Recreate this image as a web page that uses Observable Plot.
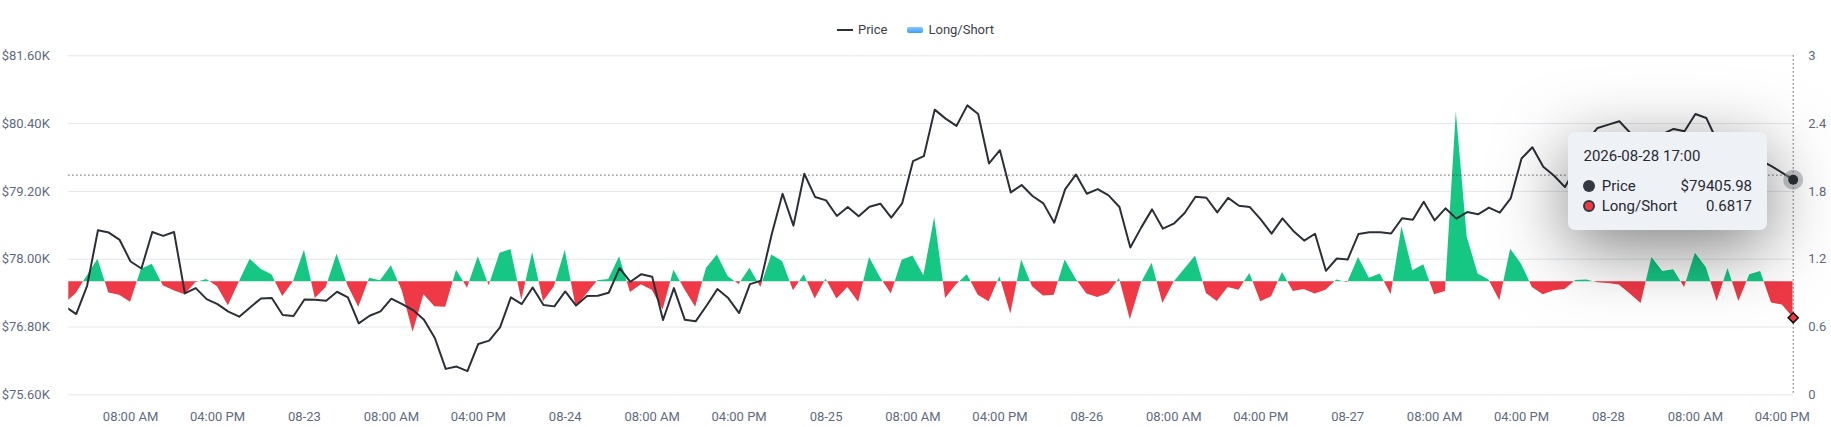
<!DOCTYPE html>
<html>
<head>
<meta charset="utf-8">
<script src="https://cdn.jsdelivr.net/npm/d3@7"></script>
<script src="https://cdn.jsdelivr.net/npm/@observablehq/plot@0.6"></script>
<style>
  html, body { margin: 0; padding: 0; background: #fff; }
  body { width: 1831px; height: 427px; overflow: hidden; font-family: Roboto, "Noto Sans", sans-serif; }
  #wrap { position: relative; width: 1831px; height: 427px; }
  #legend { height: 40px; box-sizing: border-box; padding-top: 20px; display: flex; justify-content: center; font-size: 13px; line-height: 18px; color: #3b4049; }
  #legend .item { display: flex; align-items: center; }
  #legend .sw-line { width: 16px; height: 2px; background: #2b2f36; margin-right: 5px; }
  #legend .sw-box { width: 16px; height: 6px; border-radius: 2px; background: linear-gradient(#86c9ff, #3a9ff5); margin-right: 5px; }
  #tooltip { position: absolute; left: 1568px; top: 131.5px; width: 199px; height: 98px; background: #eef1f5; border-radius: 7px; box-shadow: 0 18px 70px rgba(0,0,0,0.5); font-size: 15px; color: #262a33; }
  #tooltip .title { position: absolute; left: 15.5px; top: 14px; line-height: 20px; }
  #tooltip .row { position: absolute; left: 15px; right: 15px; height: 20px; line-height: 20px; }
  #tooltip .dot { position: absolute; left: 0; top: 4px; width: 12px; height: 12px; border-radius: 50%; box-sizing: border-box; }
  #tooltip .lab { position: absolute; left: 18.7px; }
  #tooltip .val { position: absolute; right: 0; }
</style>
</head>
<body>
<div id="wrap">
  <div id="legend">
    <div class="item"><span class="sw-line"></span><span>Price</span></div>
    <div class="item" style="margin-left:20px"><span class="sw-box"></span><span>Long/Short</span></div>
  </div>
  <div id="chart"></div>
  <div id="tooltip">
    <div class="title" id="tt-title"></div>
    <div class="row" style="top:44px"><span class="dot" style="background:#333943"></span><span class="lab">Price</span><span class="val" id="tt-price"></span></div>
    <div class="row" style="top:64px"><span class="dot" style="background:#ef3946;border:2px solid #333943"></span><span class="lab">Long/Short</span><span class="val" id="tt-ls"></span></div>
  </div>
</div>
<script>
// ---- data (hourly, starting 2026-08-22 02:00 UTC) ----
const startTime = "2026-08-22T02:00:00Z";
const viewStart = "2026-08-22T02:19:00Z";
const viewEnd = "2026-08-28T17:00:00Z";

const price = [
77159, 77029, 77529, 78512, 78471, 78341, 77959, 77835, 78482, 78412,
78482, 77394, 77488, 77294, 77206, 77071, 76982, 77147, 77306, 77312,
77012, 76994, 77288, 77282, 77265, 77424, 77324, 76865, 77000, 77077,
77301, 77206, 77100, 76929, 76606, 76059, 76100, 76018, 76500, 76559,
76794, 77324, 77206, 77500, 77188, 77165, 77429, 77180, 77347, 77352,
77406, 77841, 77600, 77735, 77688, 76924, 77488, 76930, 76900, 77177,
77471, 77312, 77047, 77559, 77618, 78441, 79159, 78594, 79512, 79100,
79041, 78765, 78923, 78759, 78929, 78982, 78735, 78988, 79735, 79823,
80647, 80488, 80359, 80723, 80570, 79694, 79929, 79182, 79312, 79118,
78988, 78647, 79235, 79500, 79159, 79240, 79129, 78923, 78206, 78559,
78882, 78541, 78629, 78818, 79106, 79088, 78829, 79085, 78947, 78923,
78706, 78453, 78723, 78500, 78329, 78450, 77794, 78012, 77994, 78447,
78476, 78478, 78455, 78723, 78700, 79018, 78688, 78900, 78718, 78835,
78794, 78912, 78823, 79076, 79782, 79982, 79635, 79476, 79276, 79618,
80088, 80323, 80382, 80441, 80235, 80147, 80029, 80218, 80306, 80265,
80570, 80500, 80088, 79941, 79970, 79841, 79747, 79647, 79529, 79405.98
];

const longShort = [
0.809, 0.897, 1.050, 1.200, 0.900, 0.882, 0.818, 1.112, 1.156, 0.965,
0.921, 0.885, 0.991, 1.021, 0.956, 0.788, 0.997, 1.200, 1.112, 1.062,
0.871, 1.002, 1.279, 0.853, 0.950, 1.244, 0.965, 0.774, 1.032, 1.009,
1.141, 0.921, 0.553, 0.885, 0.779, 0.774, 1.103, 0.944, 1.221, 0.965,
1.253, 1.285, 0.838, 1.259, 0.824, 0.956, 1.279, 0.774, 0.891, 1.009,
1.021, 1.221, 0.906, 0.974, 0.926, 0.750, 1.103, 0.932, 0.774, 1.121,
1.238, 1.044, 0.976, 1.121, 0.950, 1.238, 1.179, 0.921, 1.062, 0.847,
1.024, 0.847, 0.950, 0.818, 1.215, 1.038, 0.891, 1.191, 1.229, 1.053,
1.568, 0.853, 0.974, 1.062, 0.882, 0.824, 1.044, 0.715, 1.194, 0.956,
0.874, 0.882, 1.194, 1.024, 0.891, 0.862, 0.897, 1.029, 0.665, 0.985,
1.165, 0.809, 0.994, 1.112, 1.229, 0.897, 0.826, 0.950, 0.926, 1.074,
0.824, 0.868, 1.082, 0.915, 0.932, 0.891, 0.926, 1.015, 0.991, 1.215,
1.032, 1.068, 0.885, 1.488, 1.097, 1.150, 0.885, 0.915, 2.503, 1.397,
1.068, 1.015, 0.832, 1.288, 1.156, 0.950, 0.885, 0.921, 0.932, 1.012,
1.015, 0.991, 0.985, 0.971, 0.891, 0.809, 1.215, 1.091, 1.106, 0.950,
1.253, 1.126, 0.826, 1.118, 0.826, 1.062, 1.091, 0.812, 0.794, 0.6817
];

const priceTicks = [75600, 76800, 78000, 79200, 80400, 81600];
const lsTicks = [0, 0.6, 1.2, 1.8, 2.4, 3];
const lsBaseline = 1;
const xTickLabels = [
"2026-08-22T08:00:00Z", "2026-08-22T16:00:00Z",
"2026-08-23T00:00:00Z", "2026-08-23T08:00:00Z", "2026-08-23T16:00:00Z",
"2026-08-24T00:00:00Z", "2026-08-24T08:00:00Z", "2026-08-24T16:00:00Z",
"2026-08-25T00:00:00Z", "2026-08-25T08:00:00Z", "2026-08-25T16:00:00Z",
"2026-08-26T00:00:00Z", "2026-08-26T08:00:00Z", "2026-08-26T16:00:00Z",
"2026-08-27T00:00:00Z", "2026-08-27T08:00:00Z", "2026-08-27T16:00:00Z",
"2026-08-28T00:00:00Z", "2026-08-28T08:00:00Z", "2026-08-28T16:00:00Z"
];
const crosshairPrice = 79488;

// ---- build tables ----
const GREEN = "#16c784", RED = "#ef3946", LINE = "#2b2f36", TICK = "#5f6b80";
const pMin = priceTicks[0], pMax = priceTicks[priceTicks.length - 1];
const lsMax = lsTicks[lsTicks.length - 1];
const lsToP = v => pMin + v * (pMax - pMin) / lsMax;
const pToLs = p => (p - pMin) * lsMax / (pMax - pMin);
const t0 = new Date(startTime).getTime();
const HOUR = 3600e3;
const basePrice = lsToP(lsBaseline);
const rows = price.map((p, i) => ({
  t: new Date(t0 + i * HOUR),
  price: p,
  ls: longShort[i],
  lsP: lsToP(longShort[i]),
  base: basePrice
}));
// area outline: the data vertices plus the exact points where the series crosses the 1.0 baseline
const areaRows = [];
rows.forEach((r, i) => {
  areaRows.push(r);
  const n = rows[i + 1];
  if (n && (r.ls - lsBaseline) * (n.ls - lsBaseline) < 0) {
    const f = (lsBaseline - r.ls) / (n.ls - r.ls);
    areaRows.push({ t: new Date(r.t.getTime() + f * HOUR), lsP: basePrice, base: basePrice });
  }
});
areaRows.forEach(r => { r.up = Math.max(r.lsP, basePrice); r.down = Math.min(r.lsP, basePrice); });

const last = rows[rows.length - 1];
const xTicks = xTickLabels.map(s => new Date(s));
const fmtX = d => d.getUTCHours() === 0 ? d3.utcFormat("%m-%d")(d) : d3.utcFormat("%I:%M %p")(d);

const W = 1831, H = 387;
const mL = 68.3, mR = 38.3, mT = 15.3, mB = 32.7;

const chart = Plot.plot({
  width: W, height: H,
  marginLeft: mL, marginRight: mR, marginTop: mT, marginBottom: mB,
  style: { fontFamily: "Roboto, sans-serif", fontSize: "13px", color: TICK, background: "transparent", overflow: "visible" },
  x: { type: "utc", domain: [new Date(viewStart), new Date(viewEnd)], label: null },
  y: { domain: [pMin, pMax], label: null },
  marks: [
    Plot.gridY(priceTicks, { stroke: "#e3e6ea", strokeOpacity: 1 }),
    Plot.axisY({ ticks: priceTicks, anchor: "left", tickSize: 0, tickPadding: 19, label: null,
      tickFormat: d => "$" + (d / 1000).toFixed(2) + "K" }),
    Plot.axisY({ ticks: lsTicks.map(lsToP), anchor: "right", tickSize: 0, tickPadding: 15, label: null,
      tickFormat: d => String(+pToLs(d).toFixed(2)) }),
    Plot.axisX({ ticks: xTicks, tickSize: 0, tickPadding: 17, label: null, tickFormat: fmtX }),
    Plot.areaY(areaRows, { x: "t", y1: "base", y2: "up", fill: GREEN, clip: true }),
    Plot.areaY(areaRows, { x: "t", y1: "base", y2: "down", fill: RED, clip: true }),
    Plot.ruleY([crosshairPrice], { stroke: "#333", strokeWidth: 1, strokeDasharray: "1.2,2.8" }),
    Plot.ruleX([last.t], { stroke: "#333", strokeWidth: 1, strokeDasharray: "1.2,2.8" }),
    Plot.lineY(rows, { x: "t", y: "price", stroke: LINE, strokeWidth: 2, clip: true }),
    Plot.dot([last], { x: "t", y: "price", r: 10, fill: "#8c9096", fillOpacity: 0.5 }),
    Plot.dot([last], { x: "t", y: "price", r: 5, fill: LINE }),
    Plot.dot([last], { x: "t", y: "lsP", r: 4.5, symbol: "diamond2", fill: RED, stroke: "#111", strokeWidth: 1.6 })
  ]
});

document.getElementById("chart").appendChild(chart);

// tooltip text
document.getElementById("tt-title").textContent = d3.utcFormat("%Y-%m-%d %H:%M")(last.t);
document.getElementById("tt-price").textContent = "$" + last.price.toFixed(2);
document.getElementById("tt-ls").textContent = last.ls.toFixed(4);
</script>
</body>
</html>
